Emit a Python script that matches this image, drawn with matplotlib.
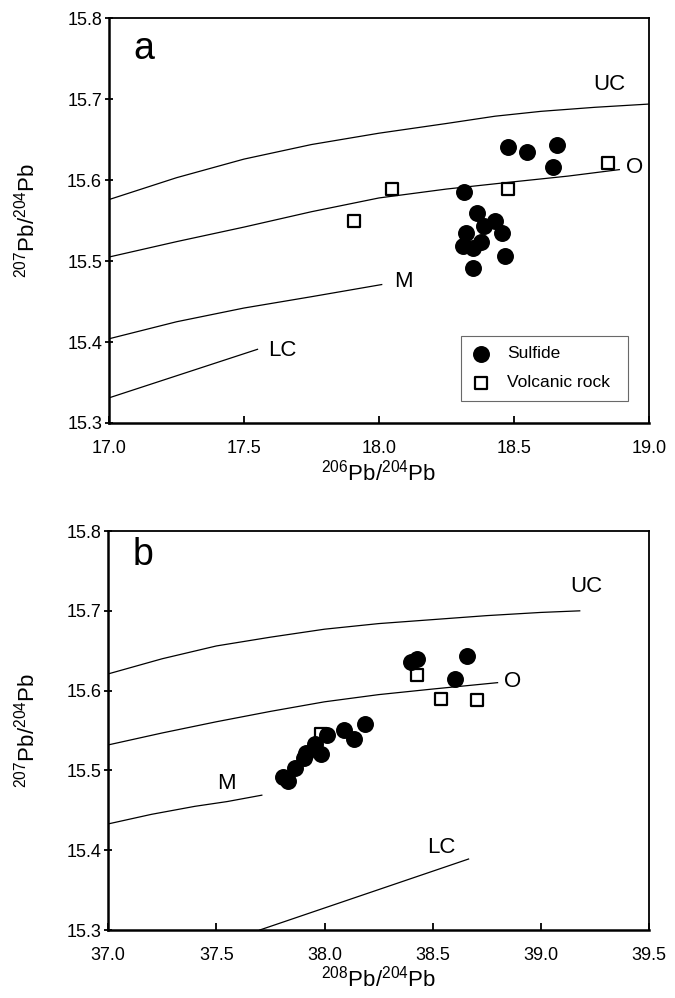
import numpy as np
import matplotlib
matplotlib.use("Agg")
import matplotlib.pyplot as plt

plt.rcParams['font.family'] = ['Liberation Sans', 'DejaVu Sans']
plt.rcParams['mathtext.fontset'] = 'custom'
plt.rcParams['mathtext.rm'] = 'Liberation Sans'
plt.rcParams['mathtext.it'] = 'Liberation Sans:italic'

# ---- panel a : 207Pb/204Pb vs 206Pb/204Pb ----
sulf_a_x = [18.479, 18.547, 18.658, 18.643, 18.316, 18.362, 18.430, 18.389,
            18.321, 18.454, 18.378, 18.310, 18.349, 18.467, 18.347]
sulf_a_y = [15.641, 15.635, 15.644, 15.616, 15.585, 15.559, 15.550, 15.543,
            15.535, 15.535, 15.523, 15.519, 15.516, 15.506, 15.492]
volc_a_x = [17.907, 18.049, 18.479, 18.849]
volc_a_y = [15.549, 15.589, 15.589, 15.621]

uc_a_x = [17.0, 17.25, 17.5, 17.75, 18.0, 18.25, 18.43, 18.6, 18.8, 19.0]
uc_a_y = [15.576, 15.603, 15.626, 15.644, 15.658, 15.670, 15.679, 15.685, 15.690, 15.694]
o_a_x = [17.0, 17.25, 17.5, 17.75, 18.0, 18.25, 18.5, 18.7, 18.89]
o_a_y = [15.505, 15.524, 15.542, 15.561, 15.578, 15.589, 15.598, 15.605, 15.613]
m_a_x = [17.0, 17.25, 17.5, 17.75, 18.01]
m_a_y = [15.404, 15.425, 15.442, 15.456, 15.471]
lc_a_x = [17.0, 17.55]
lc_a_y = [15.331, 15.391]

# ---- panel b : 207Pb/204Pb vs 208Pb/204Pb ----
sulf_b_x = [38.400, 38.426, 38.657, 38.605, 38.189, 38.089, 38.138, 38.012,
            37.985, 37.954, 37.912, 37.903, 37.862, 37.808, 37.831]
sulf_b_y = [15.636, 15.640, 15.643, 15.615, 15.558, 15.551, 15.540, 15.545,
            15.521, 15.533, 15.522, 15.516, 15.503, 15.492, 15.487]
volc_b_x = [37.985, 38.426, 38.539, 38.707]
volc_b_y = [15.546, 15.620, 15.589, 15.588]

uc_b_x = [37.0, 37.25, 37.5, 37.75, 38.0, 38.25, 38.5, 38.75, 39.0, 39.18]
uc_b_y = [15.621, 15.640, 15.656, 15.667, 15.677, 15.684, 15.689, 15.694, 15.698, 15.700]
o_b_x = [37.0, 37.25, 37.5, 37.75, 38.0, 38.25, 38.5, 38.8]
o_b_y = [15.532, 15.547, 15.561, 15.574, 15.586, 15.595, 15.602, 15.610]
m_b_x = [37.0, 37.2, 37.4, 37.55, 37.71]
m_b_y = [15.433, 15.445, 15.455, 15.461, 15.469]
lc_b_x = [37.70, 38.666]
lc_b_y = [15.300, 15.389]

ylab = r'$^{207}$Pb/$^{204}$Pb'

fig = plt.figure(figsize=(6.75, 9.98), dpi=100)
axa = fig.add_axes([0.1615, 0.5762, 0.800, 0.4055])
axb = fig.add_axes([0.1604, 0.0681, 0.801, 0.3998])


def style(ax, xlo, xhi, xlab):
    ax.set_xlim(xlo, xhi)
    ax.set_ylim(15.3, 15.8)
    ax.set_xticks(np.arange(xlo, xhi + 0.01, 0.5))
    ax.set_yticks(np.arange(15.3, 15.81, 0.1))
    ax.xaxis.set_major_formatter(matplotlib.ticker.FormatStrFormatter('%.1f'))
    ax.yaxis.set_major_formatter(matplotlib.ticker.FormatStrFormatter('%.1f'))
    ax.tick_params(axis='x', direction='in', length=5, width=1.3, pad=12, labelsize=13)
    ax.tick_params(axis='y', direction='inout', length=6, width=1.3, pad=2, labelsize=13)
    for s in ['left', 'bottom']:
        ax.spines[s].set_linewidth(1.8)
    for s in ['top', 'right']:
        ax.spines[s].set_linewidth(1.3)
    ax.set_xlabel(xlab, fontsize=16)
    ax.set_ylabel(ylab, fontsize=16)
    ax.yaxis.set_label_coords(-0.128, 0.5)


# panel a
for xs, ys in [(uc_a_x, uc_a_y), (o_a_x, o_a_y), (m_a_x, m_a_y), (lc_a_x, lc_a_y)]:
    axa.plot(xs, ys, color='black', lw=0.9)
axa.scatter(volc_a_x, volc_a_y, marker='s', s=70, facecolor='white',
            edgecolor='black', linewidth=1.6, zorder=3, label='Volcanic rock')
axa.scatter(sulf_a_x, sulf_a_y, marker='o', s=125, color='black', zorder=4,
            label='Sulfide')
axa.text(17.13, 15.762, 'a', fontsize=27, ha='center', va='center')
axa.text(18.854, 15.718, 'UC', fontsize=16, ha='center', va='center')
axa.text(18.948, 15.615, 'O', fontsize=16, ha='center', va='center')
axa.text(18.09, 15.475, 'M', fontsize=16, ha='center', va='center')
axa.text(17.59, 15.390, 'LC', fontsize=16, ha='left', va='center')
style(axa, 17.0, 19.0, r'$^{206}$Pb/$^{204}$Pb')
axa.xaxis.set_label_coords(0.5, -0.09)
h, l = axa.get_legend_handles_labels()
leg = axa.legend(h[::-1], l[::-1], loc='lower left', bbox_to_anchor=(0.651, 0.055, 0.311, 0.157),
                 mode='expand', fontsize=12.5, frameon=True, fancybox=False,
                 edgecolor='#444444', borderaxespad=0, labelspacing=0.8,
                 handletextpad=0.9, borderpad=0.6, handlelength=1.2)
leg.get_frame().set_linewidth(0.8)

# panel b
for xs, ys in [(uc_b_x, uc_b_y), (o_b_x, o_b_y), (m_b_x, m_b_y), (lc_b_x, lc_b_y)]:
    axb.plot(xs, ys, color='black', lw=0.9)
axb.scatter(volc_b_x, volc_b_y, marker='s', s=70, facecolor='white',
            edgecolor='black', linewidth=1.6, zorder=3)
axb.scatter(sulf_b_x, sulf_b_y, marker='o', s=125, color='black', zorder=4)
axb.text(37.16, 15.77, 'b', fontsize=27, ha='center', va='center')
axb.text(39.21, 15.730, 'UC', fontsize=16, ha='center', va='center')
axb.text(38.87, 15.611, 'O', fontsize=16, ha='center', va='center')
axb.text(37.546, 15.484, 'M', fontsize=16, ha='center', va='center')
axb.text(38.54, 15.403, 'LC', fontsize=16, ha='center', va='center')
style(axb, 37.0, 39.5, r'$^{208}$Pb/$^{204}$Pb')
axb.xaxis.set_label_coords(0.5, -0.09)

fig.savefig('out.png', dpi=100)
